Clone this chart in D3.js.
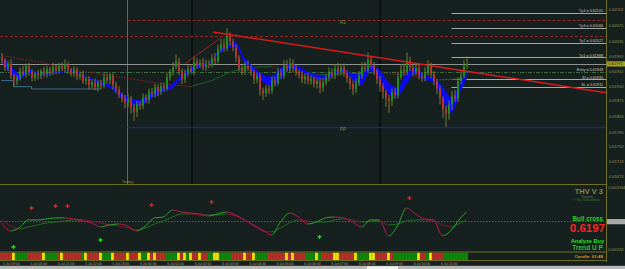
<!DOCTYPE html>
<html>
<head>
<meta charset="utf-8">
<script src="https://cdn.jsdelivr.net/npm/d3@7"></script>
<style>
  html, body { margin: 0; padding: 0; background: #16211f; overflow: hidden; }
  text { font-family: "Liberation Sans", Arial, sans-serif; }
</style>
</head>
<body>
<svg id="chart" width="625" height="269"></svg>
<script>
// prices are in points (1e-5), oscillator in 1e-6

const firstOpen = 61990;
const closes = [
  61980,61962,61971,61940,61925,61935,61952,61944,61966,61950,
  61934,61946,61940,61952,61944,61958,61949,61962,61953,61965,
  61958,61970,61955,61946,61956,61938,61944,61926,61932,61915,
  61922,61910,61921,61914,61935,61928,61940,61915,61904,61890,
  61880,61868,61880,61856,61845,61866,61860,61882,61876,61898,
  61892,61910,61898,61912,61906,61936,61948,61962,61978,61952,
  61930,61946,61958,61950,61976,61966,61974,61962,61972,61968,
  61986,61978,62010,62022,62012,62044,62030,62014,61988,61960,
  61950,61966,61958,61950,61930,61940,61902,61894,61906,61900,
  61928,61920,61948,61940,61966,61958,61974,61960,61950,61942,
  61930,61938,61926,61932,61918,61926,61908,61922,61934,61948,
  61940,61960,61950,61962,61946,61932,61918,61904,61922,61940,
  61962,61956,61982,61968,61952,61930,61912,61896,61880,61874,
  61896,61888,61936,61956,61948,61980,61962,61950,61960,61940,
  61934,61948,61966,61944,61926,61906,61880,61852,61840,61864,
  61888,61880,61926,61940,61966,61971
];
const upperWick = [
  10,6,8,12,5,7,10,14,6,8, 7,5,9,6,11,8,6,12,7,9, 10,13,7,6,9,7,5,8,6,7,
  9,11,7,8,14,10,7,6,9,8, 6,9,12,7,10,8,7,11,9,8, 10,9,7,10,9,12,10,14,18,9,
  7,10,9,12,14,10,9,12,10,9, 10,14,12,15,16,21,10,8,9,6, 9,12,14,8,6,9,7,6,10,9,
  10,9,12,10,14,15,12,9,8,6, 9,8,10,9,6,8,9,12,10,14, 12,10,14,9,10,8,6,9,10,12,
  14,15,19,10,8,6,9,8,6,9, 10,12,14,15,16,21,10,9,12,10, 9,14,15,9,8,6,8,6,9,10,
  12,14,10,15,16,21
];
const lowerWick = [
  8,9,10,9,14,10,8,6,9,10, 9,8,10,9,7,9,10,8,9,8, 6,9,10,8,9,10,9,8,10,12,
  10,9,12,10,8,9,10,12,10,9, 10,14,12,16,24,14,10,9,8,10, 9,10,12,9,8,6,9,8,6,10,
  12,9,8,6,9,8,6,8,9,8, 6,8,6,8,9,8,10,9,12,10, 9,8,6,10,12,10,14,18,10,9,
  8,9,6,8,9,8,10,9,10,9, 10,12,9,10,9,12,14,10,8,9, 8,9,10,8,9,10,14,15,10,9,
  8,6,8,9,10,12,14,16,22,32, 14,9,8,6,8,6,9,10,9,10, 10,9,8,10,12,14,16,24,35,16,
  14,10,9,8,6,8
];

// blue smoothed band, one value every 3 bars plus the last bar
const bandHi = [
  61990,61968,61945,61956,61949,61946,61949,61952,61954,61943,61933,61924,61916,61899,
  61886,61876,61884,61901,61910,61919,61941,61961,61970,61973,62003,62019,62029,61988,
  61963,61944,61938,61960,61970,61965,61951,61943,61942,61951,61957,61945,61944,61968,
  61956,61922,61909,61948,61961,61941,61933,61912,61882,61922,61950
];
const bandLo = [
  61977,61946,61930,61947,61945,61942,61945,61949,61950,61939,61929,61916,61908,61888,
  61871,61860,61868,61885,61898,61907,61931,61948,61963,61969,61995,62011,62016,61975,
  61949,61925,61913,61931,61958,61955,61942,61931,61929,61942,61950,61930,61915,61952,
  61930,61892,61885,61918,61946,61929,61923,61878,61842,61898,61930
];

const maBars = [0,13,26,43,53,63,70,76,81,90,96,106,116,126,136,146,155];
const maVals = [61993,61975,61953,61932,61919,61911,61927,61948,61961,61964,61953,61943,61945,61948,61940,61929,61932];

const stepBars = [0,4,10,33];
const stepVals = [61927,61911,61905,61905];

const trendBars = [70.5, 201.5];
const trendVals = [62055, 61895];
const thinTrendBars = [61.2, 72.8];
const thinTrendVals = [61972, 62038];

const todayBar = 42;
const separatorBars = [63.5, 126.2];
const levelR1 = 62087, levelHigh = 62044, levelPP = 61805;
const bid = 61971;
const tradeStartBar = 150;
const tradeNames = ["Tp4", "Tp3", "Tp2", "Tp1", "Entry", "SI", "SL"];
const tradeVals  = [62105, 62066, 62027, 61988, 61949, 61930, 61911];

const priceTicks = [0.62113,0.62071,0.62031,0.61991,0.61951,0.61910,0.61873,0.61833,0.61790,0.61753,0.61713,0.61673];

// oscillator sub window
const oscFast = [
  -11,-80,-50,15,15,23,32,32,23,6,-11,-45,-28,-20,-37,-80,-37,32,40,100,83,74,66,49,66,83,57,
  15,-28,-71,-114,-3,74,40,-20,-3,32,40,32,-3,-45,15,15,-122,-37,117,66,23,15,-122,-71,32,83
];
const oscSlow = [
  15,-37,-62,-45,-28,-11,-3,6,15,15,6,-11,-28,-37,-54,-71,-54,-20,6,40,66,66,57,57,57,66,49,
  15,-37,-80,-88,-54,-11,15,6,-3,-3,15,23,15,-3,6,6,-28,-20,6,15,15,6,-28,-45,-11,15
];
const sellBars = [10, 18, 22, 50, 70, 136];
const sellVals = [117, 134, 134, 143, 169, 203];
const buyBars = [4, 33, 106];
const buyVals = [-217, -157, -131];
const oscTicks = [294.4, -243];
const oscTickText = ["0.0002944", "0.000243"];

// colour bar per bar: r = down, g = up, y = neutral
const trendCells = ("rrrry" + "gggg" + "rrrrr" + "y" + "gggg" + "r" + "y" + "rrrrrr" + "g" + "y" +
  "rrrr" + "y" + "ggg" + "y" + "rrrr" + "y" + "rrr" + "y" + "gg" + "y" + "r" + "y" + "rrr" +
  "gggg" + "y" + "r" + "y" + "g" + "y" + "rr" + "y" + "rr" + "gg" + "yy" + "gggg" + "rrrr" +
  "y" + "rr" + "y" + "gggg" + "rrrrrr" + "y" + "r" + "y" + "rrrr" + "ggg" + "y" + "g" +
  "rrrr" + "yy" + "rrrrr" + "y" + "gggg" + "yy" + "rrrr" + "y" + "r" + "gggggggg" + "y" +
  "rr" + "g" + "y" + "rrrr" + "gggggggg").split("");

const timeLabels = ["5 Jul 19:00","5 Jul 20:00","5 Jul 21:00","5 Jul 22:00","5 Jul 23:00",
  "6 Jul 00:00","6 Jul 01:00","6 Jul 02:00","6 Jul 03:00","6 Jul 04:00","6 Jul 05:00",
  "6 Jul 06:00","6 Jul 07:00","6 Jul 08:00","6 Jul 09:00","6 Jul 10:00","6 Jul 11:00"];

// ---------------------------------------------------------------
const svg = d3.select("#chart");
const AXIS_X = 606.5;
const MAIN_BOTTOM = 184.5, OSC_BOTTOM = 252, BAR_BOTTOM = 260.5;
const olive = "#6f6f1f", labelColor = "#95955a";

const pt = v => v / 1e5;
const x = d3.scaleLinear().domain([-0.5, 201.5]).range([0, 606]);
const y = d3.scaleLinear().domain([0.61673, 0.62113]).range([177, 10]);
const yo = d3.scaleLinear().domain([-0.000243, 0.0002944]).range([250, 187.3]);
const xTime = d3.scaleLinear().domain([0, timeLabels.length - 1]).range([3, 441]);

svg.append("rect").attr("width", 625).attr("height", 269).attr("fill", "#16211f");

const defs = svg.append("defs");
defs.append("clipPath").attr("id", "mainClip")
  .append("rect").attr("x", 0).attr("y", 0).attr("width", AXIS_X).attr("height", MAIN_BOTTOM);
defs.append("clipPath").attr("id", "oscClip")
  .append("rect").attr("x", 0).attr("y", MAIN_BOTTOM + 1).attr("width", AXIS_X).attr("height", OSC_BOTTOM - MAIN_BOTTOM - 1.5);

const main = svg.append("g").attr("clip-path", "url(#mainClip)");

// period separators and today line
main.selectAll(".sep").data(separatorBars).join("line")
  .attr("x1", d => x(d)).attr("x2", d => x(d)).attr("y1", 0).attr("y2", MAIN_BOTTOM)
  .attr("stroke", "#0a110f").attr("stroke-width", 2);
main.append("line").attr("x1", x(todayBar)).attr("x2", x(todayBar))
  .attr("y1", 0).attr("y2", MAIN_BOTTOM).attr("stroke", olive).attr("stroke-width", 1);

// horizontal levels
function hline(val, x0, color, width, dash) {
  main.append("line").attr("x1", x0).attr("x2", AXIS_X)
    .attr("y1", Math.round(y(pt(val))) + 0.5).attr("y2", Math.round(y(pt(val))) + 0.5)
    .attr("stroke", color).attr("stroke-width", width)
    .attr("stroke-dasharray", dash || null);
}
hline(levelHigh, 0, "#962222", 1, "3,2");
hline(levelR1, x(todayBar), "#962222", 1, "3,2");
hline(levelPP, x(todayBar), "#1c2a66", 1.5);
hline(bid, 0, "#8e938f", 1);
tradeVals.forEach((v, i) => {
  if (tradeNames[i] === "Entry") hline(v, 0, "#3a6e3a", 1, "4,1.5,1,1.5");
  else hline(v, x(tradeStartBar), "#a6aaa6", 1);
});

// slow average, coloured by direction
const maPts = maBars.map((b, i) => [x(b), y(pt(maVals[i]))]);
for (let i = 1; i < maPts.length; i++) {
  main.append("line")
    .attr("x1", maPts[i - 1][0]).attr("y1", maPts[i - 1][1])
    .attr("x2", maPts[i][0]).attr("y2", maPts[i][1])
    .attr("stroke", maVals[i] < maVals[i - 1] ? "#7a1f1f" : "#1e5c24")
    .attr("stroke-width", 1)
    .attr("stroke-dasharray", maVals[i] < maVals[i - 1] ? "2,1" : null);
}

// stepped support
main.append("path")
  .datum(stepBars.map((b, i) => [x(b), y(pt(stepVals[i]))]))
  .attr("d", d3.line().curve(d3.curveStepAfter))
  .attr("fill", "none").attr("stroke", "#3b6f90").attr("stroke-width", 1);

// blue band (drawn under the candles, shows between them)
const bandIdx = d3.range(0, 156, 3).concat([155]);
main.append("path")
  .datum(bandIdx.map((b, k) => ({ b, hi: bandHi[k], lo: bandLo[k] })))
  .attr("d", d3.area().curve(d3.curveMonotoneX)
    .x(d => x(d.b)).y0(d => y(pt(d.lo))).y1(d => y(pt(d.hi))))
  .attr("fill", "#0b0bee");

// candles
const bars = closes.map((c, i) => {
  const o = i === 0 ? firstOpen : closes[i - 1];
  return { i, o, c, h: Math.max(o, c) + upperWick[i], l: Math.min(o, c) - lowerWick[i] };
});
main.selectAll(".wick").data(bars).join("line")
  .attr("x1", d => x(d.i) + 0.5).attr("x2", d => x(d.i) + 0.5)
  .attr("y1", d => y(pt(d.h))).attr("y2", d => y(pt(d.l)))
  .attr("stroke", "#767632").attr("stroke-width", 1);
main.selectAll(".body").data(bars).join("rect")
  .attr("x", d => x(d.i) - 0.5).attr("width", 2)
  .attr("y", d => y(pt(Math.max(d.o, d.c))))
  .attr("height", d => Math.max(1, Math.abs(y(pt(d.o)) - y(pt(d.c)))))
  .attr("fill", d => d.c >= d.o ? "#1f8c1f" : "#b23434");

// trend lines
main.append("line")
  .attr("x1", x(thinTrendBars[0])).attr("y1", y(pt(thinTrendVals[0])))
  .attr("x2", x(thinTrendBars[1])).attr("y2", y(pt(thinTrendVals[1])))
  .attr("stroke", "#9a2424").attr("stroke-width", 1);
main.append("line")
  .attr("x1", x(trendBars[0])).attr("y1", y(pt(trendVals[0])))
  .attr("x2", x(trendBars[1])).attr("y2", y(pt(trendVals[1])))
  .attr("stroke", "#d81a1a").attr("stroke-width", 1.5);

// level labels
main.append("text").attr("x", 343).attr("y", y(pt(levelR1)) + 4.5)
  .attr("text-anchor", "middle").attr("font-size", 4.5).attr("fill", "#8a8a3c").text("R1");
main.append("text").attr("x", 343).attr("y", y(pt(levelPP)) + 4.5)
  .attr("text-anchor", "middle").attr("font-size", 4.5).attr("fill", "#8a8a3c").text("PP");
main.selectAll(".tl").data(tradeVals).join("text")
  .attr("x", 603).attr("y", d => y(pt(d)) - 0.8)
  .attr("text-anchor", "end").attr("font-size", 3.7).attr("fill", "#c4c8c4")
  .text((d, i) => tradeNames[i] + " = " + d3.format(".5f")(pt(d)));
svg.append("text").attr("x", x(todayBar)).attr("y", 183)
  .attr("text-anchor", "middle").attr("font-size", 4.4).attr("fill", "#8a8a3c").text("Today");

// price axis
svg.selectAll(".pt").data(priceTicks).join("text")
  .attr("x", 609).attr("y", d => y(d) + 1.4)
  .attr("font-size", 4).attr("fill", labelColor).text(d => d3.format(".5f")(d));
svg.append("rect").attr("x", 607).attr("y", y(pt(bid)) - 2.6).attr("width", 18).attr("height", 5.2)
  .attr("fill", "#a9a623");
svg.append("text").attr("x", 608.5).attr("y", y(pt(bid)) + 1.4)
  .attr("font-size", 4).attr("fill", "#1a1a08").text(d3.format(".5f")(pt(bid)));

// ---------------------------------------------------------------
// oscillator
const osc = svg.append("g").attr("clip-path", "url(#oscClip)");
osc.append("line").attr("x1", 0).attr("x2", AXIS_X).attr("y1", yo(0)).attr("y2", yo(0))
  .attr("stroke", "#5b625e").attr("stroke-width", 1).attr("stroke-dasharray", "1.5,1.5");

function slopeLine(vals, upColor, downColor, id) {
  const pts = bandIdx.map((b, k) => [x(b), yo(vals[k] / 1e6)]);
  const line = d3.line().curve(d3.curveMonotoneX);
  ["up", "down"].forEach(dir => {
    const cp = defs.append("clipPath").attr("id", id + dir);
    for (let k = 1; k < pts.length; k++) {
      const rising = vals[k] >= vals[k - 1];
      if ((dir === "up") === rising)
        cp.append("rect").attr("x", pts[k - 1][0]).attr("width", pts[k][0] - pts[k - 1][0] + 0.01)
          .attr("y", 180).attr("height", 80);
    }
    osc.append("path").datum(pts).attr("d", line)
      .attr("clip-path", `url(#${id + dir})`)
      .attr("fill", "none").attr("stroke", dir === "up" ? upColor : downColor).attr("stroke-width", 1);
  });
}
slopeLine(oscSlow, "#1f6e1f", "#7e1a32", "slow");
slopeLine(oscFast, "#33a033", "#b21c48", "fast");

const cross = d3.symbol(d3.symbolCross).size(9);
osc.selectAll(".sell").data(sellBars).join("path")
  .attr("transform", (d, i) => `translate(${x(d)},${yo(sellVals[i] / 1e6)})`)
  .attr("d", cross).attr("fill", "#e02424");
osc.selectAll(".buy").data(buyBars).join("path")
  .attr("transform", (d, i) => `translate(${x(d)},${yo(buyVals[i] / 1e6)})`)
  .attr("d", cross).attr("fill", "#22dd22");

svg.selectAll(".ot").data(oscTicks).join("text")
  .attr("x", 608.2).attr("y", d => yo(d / 1e6) + 1.4)
  .attr("font-size", 3.6).attr("fill", labelColor).text((d, i) => oscTickText[i]);
svg.append("rect").attr("x", 607).attr("y", yo(0) - 2.6).attr("width", 18).attr("height", 5.2)
  .attr("fill", "#a8aaa8");

// panel texts
function label(txt, xx, yy, size, color, weight) {
  svg.append("text").attr("x", xx).attr("y", yy).attr("text-anchor", "end")
    .attr("font-size", size).attr("font-weight", weight || "normal").attr("fill", color).text(txt);
}
label("THV V 3", 603, 193.5, 7.5, "#8c8a3a", "bold");
label("System", 593, 197.5, 3.6, "#5a6e58");
label("© By Cobraforex", 600, 201, 3.6, "#2c7a2c");
label("Bull cross", 603, 221, 6.3, "#27d327", "bold");
label("0.6197", 605, 231.5, 11.5, "#ff2020", "bold");
label("Analyze Buy", 604, 243, 5.6, "#24e024", "bold");
label("Trend U P", 603, 249.5, 6.6, "#26c43a", "bold");

// trend colour bar
const cellColor = { r: "#b8302c", g: "#0b8a0b", y: "#f0e200" };
svg.selectAll(".cell").data(trendCells).join("rect")
  .attr("x", (d, i) => x(i) - 1.5).attr("width", 3)
  .attr("y", OSC_BOTTOM + 0.5).attr("height", BAR_BOTTOM - OSC_BOTTOM - 0.5)
  .attr("fill", d => cellColor[d])
  .attr("stroke", "rgba(0,0,0,0.22)").attr("stroke-width", 0.4);
label("Candle:  01:48", 603, 258.2, 4.4, "#dd9a22", "bold");

// frames
const frame = [[0, MAIN_BOTTOM, AXIS_X, MAIN_BOTTOM], [0, OSC_BOTTOM, AXIS_X, OSC_BOTTOM],
  [0, BAR_BOTTOM, AXIS_X, BAR_BOTTOM], [AXIS_X, 0, AXIS_X, 262]];
svg.selectAll(".frame").data(frame).join("line")
  .attr("x1", d => d[0]).attr("y1", d => d[1]).attr("x2", d => d[2]).attr("y2", d => d[3])
  .attr("stroke", olive).attr("stroke-width", 1);

// time axis
svg.selectAll(".tt").data(timeLabels).join("text")
  .attr("x", (d, i) => xTime(i)).attr("y", 264.6)
  .attr("font-size", 3.4).attr("fill", "#a0a07a").text(d => d);

// bottom tab strip
svg.append("rect").attr("x", 0).attr("y", 265.8).attr("width", 625).attr("height", 3.2).attr("fill", "#b9b9b9");
svg.append("rect").attr("x", 367).attr("y", 266.3).attr("width", 31).attr("height", 2.7).attr("fill", "#f2f2f2");
</script>
</body>
</html>
